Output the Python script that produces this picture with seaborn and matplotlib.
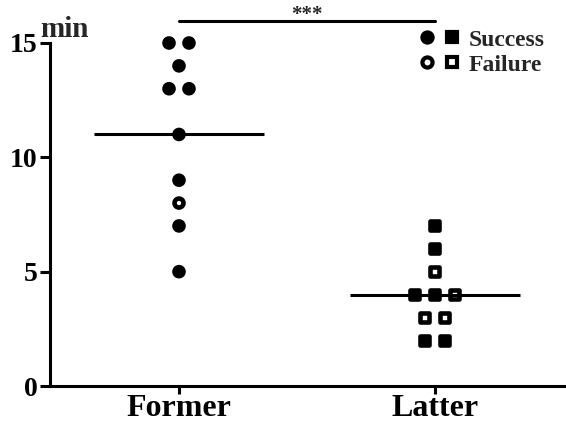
import numpy as np
import pandas as pd
import matplotlib
matplotlib.use("Agg")
import matplotlib.pyplot as plt
from matplotlib.lines import Line2D
from matplotlib.legend_handler import HandlerTuple
import seaborn as sns

sns.set_theme(style="ticks")
plt.rcParams['font.family'] = ['Liberation Serif', 'DejaVu Serif']
plt.rcParams['font.weight'] = 'bold'

# data
groups = ["Former", "Latter"]
former_time = [15, 15, 14, 13, 13, 11, 9, 8, 7, 5]
former_outcome = ["Success"] * 7 + ["Failure"] + ["Success"] * 2
latter_time = [7, 6, 5, 4, 4, 4, 3, 3, 2, 2]
latter_outcome = ["Success", "Success", "Failure", "Success", "Success",
                  "Failure", "Failure", "Failure", "Success", "Success"]
yticks = [0, 5, 10, 15]
sig_label = "***"

df = pd.DataFrame({
    "group": ["Former"] * len(former_time) + ["Latter"] * len(latter_time),
    "time": former_time + latter_time,
    "outcome": former_outcome + latter_outcome,
})

# spread tied values side by side, centred on the category (like Prism)
SPACING = 0.078
df["xpos"] = df["group"].map({g: i for i, g in enumerate(groups)}).astype(float)
for (g, v), idx in df.groupby(["group", "time"]).groups.items():
    n = len(idx)
    df.loc[idx, "xpos"] += (np.arange(n) - (n - 1) / 2) * SPACING

fig = plt.figure(figsize=(5.66, 4.25), dpi=100)
ax = fig.add_axes([50 / 566, 39 / 425, 516 / 566, 343 / 425])

sns.scatterplot(data=df, x="xpos", y="time", hue="outcome", style="group",
                palette={"Success": "black", "Failure": "white"},
                markers={"Former": "o", "Latter": "s"},
                s=42, edgecolor="black", linewidth=3.3, legend=False,
                clip_on=False, zorder=3, ax=ax)

# mean lines
for i, g in enumerate(groups):
    m = df.loc[df["group"] == g, "time"].mean()
    ax.hlines(m, i - 0.332, i + 0.332, color="black", lw=2.2, zorder=4)

# significance bar
ax.plot([0, 1], [15.96, 15.96], color="black", lw=2.2, clip_on=False)
ax.text(0.5, 16.0, sig_label, ha="center", va="baseline", fontsize=15,
        fontweight="bold")

ax.set_xlim(-0.504, 1.512)
ax.set_ylim(0, 15)
ax.set_xticks(range(len(groups)))
ax.set_xticklabels(groups)
ax.set_yticks(yticks)
ax.set_xlabel("")
ax.set_ylabel("")
sns.despine(ax=ax)
for sp in ["left", "bottom"]:
    ax.spines[sp].set_linewidth(2.2)
    ax.spines[sp].set_color("black")
ax.tick_params(axis="y", left=True, direction="out", color="black", width=2.2,
               length=7, labelcolor="black", labelsize=20, pad=2)
ax.tick_params(axis="x", bottom=True, direction="out", color="black", width=2.2,
               length=6, labelcolor="black", labelsize=23, pad=0)
for lab in ax.get_xticklabels() + ax.get_yticklabels():
    lab.set_fontweight("bold")

fig.text(40 / 566, 1 - 37 / 425, "min", ha="left", va="baseline",
         fontsize=21, fontweight="bold")

# legend
kw = dict(ls="", markersize=7.3, markeredgewidth=3.0, markeredgecolor="black")
succ = (Line2D([], [], marker="o", markerfacecolor="black", **kw),
        Line2D([], [], marker="s", markerfacecolor="black", **kw))
fail = (Line2D([], [], marker="o", markerfacecolor="white", **kw),
        Line2D([], [], marker="s", markerfacecolor="white", **kw))
leg = ax.legend([succ, fail], ["Success", "Failure"],
                handler_map={tuple: HandlerTuple(ndivide=None, pad=0.5)},
                loc="upper right", bbox_to_anchor=(545 / 566, 1 - 29 / 425),
                bbox_transform=fig.transFigure, frameon=False, borderpad=0,
                borderaxespad=0, handlelength=1.6, handletextpad=0.45,
                labelspacing=0.15, prop={"size": 17, "weight": "bold"})

fig.savefig("out.png", dpi=100)
